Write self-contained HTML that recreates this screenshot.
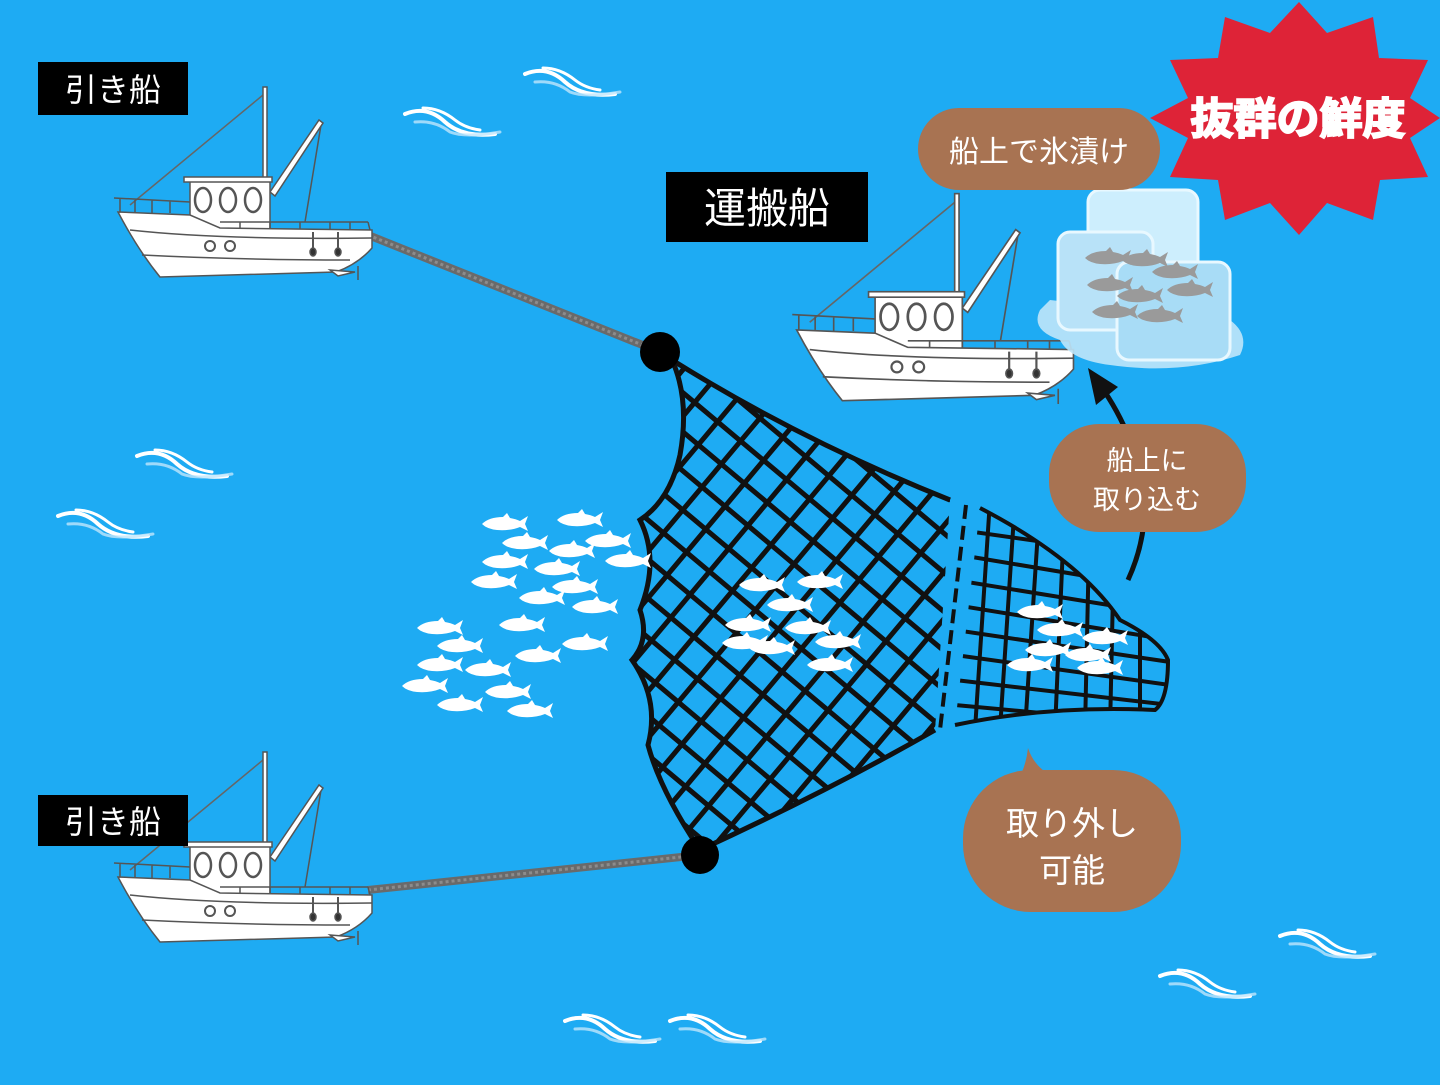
<!DOCTYPE html>
<html><head><meta charset="utf-8"><style>
html,body{margin:0;padding:0;}
body{width:1440px;height:1080px;overflow:hidden;background:#1eabf3;}
svg text{font-family:"Liberation Sans","Noto Sans CJK JP",sans-serif;}
</style></head><body>
<svg width="1440" height="1080" viewBox="0 0 1440 1080" xmlns="http://www.w3.org/2000/svg">
<defs>
 <g id="wave" fill="none" stroke-linecap="round">
  <path d="M0,6 Q22,-3 40,14 Q58,30 90,26" stroke="#fff" stroke-width="4"/>
  <path d="M18,0 Q35,0 50,12 Q60,20 75,22" stroke="#fff" stroke-width="3"/>
  <path d="M10,14 Q30,12 45,24 Q60,30 95,24" stroke="#bfe6fb" stroke-width="3" opacity="0.8"/>
 </g>
 <g id="fish">
  <path d="M-23,0 Q-16,-7 -2,-7 L2,-11 L5,-6 Q11,-5 15,-3 L23,-8 L20,0 L23,7 L15,3 Q5,7 -8,6 Q-18,5 -23,0Z" fill="#fff"/>
 </g>
 <g id="gfish">
  <path d="M-23,0 Q-16,-7 -2,-7 L2,-11 L5,-6 Q11,-5 15,-3 L23,-8 L20,0 L23,7 L15,3 Q5,7 -8,6 Q-18,5 -23,0Z" fill="#9a9a9a"/>
 </g>
 <g id="boat" stroke="#555" stroke-width="1.5">
  <line x1="30" y1="125" x2="163" y2="15" stroke="#666" stroke-width="1.5"/>
  <line x1="205" y1="142" x2="221" y2="45" stroke="#555" stroke-width="1.5"/>
  <rect x="163" y="7" width="4" height="95" fill="#fff"/>
  <path d="M170,112 L219,40 L223,43 L175,116Z" fill="#fff"/>
  <rect x="90" y="100" width="80" height="50" fill="#fff"/>
  <rect x="84" y="97" width="88" height="5" fill="#fff"/>
  <ellipse cx="103" cy="120" rx="8" ry="12" fill="none" stroke-width="2.5"/>
  <ellipse cx="128" cy="120" rx="8" ry="12" fill="none" stroke-width="2.5"/>
  <ellipse cx="153" cy="120" rx="8" ry="12" fill="none" stroke-width="2.5"/>
  <path d="M14,118 L90,122 M20,118 L20,132 M35,120 L35,132 M52,120 L52,133 M70,121 L70,133 M120,142 L268,142 M140,142 L140,150 M170,142 L170,150 M200,142 L200,150 M230,142 L230,150 M250,142 L250,150 M268,142 L270,150" fill="none"/>
  <path d="M18,132 L90,135 L120,148 L272,150 L272,168 Q258,184 236,192 L60,197 Q38,170 18,132 Z" fill="#fff"/>
  <path d="M30,150 Q120,160 272,158" fill="none"/>
  <path d="M42,175 Q140,180 250,180" fill="none"/>
  <circle cx="110" cy="166" r="5" fill="none" stroke-width="2"/>
  <circle cx="130" cy="166" r="5" fill="none" stroke-width="2"/>
  <path d="M213,152 L213,170 M238,152 L238,170" fill="none" stroke-width="2"/>
  <ellipse cx="213" cy="172" rx="3" ry="4" fill="#333"/>
  <ellipse cx="238" cy="172" rx="3" ry="4" fill="#333"/>
  <path d="M230,190 L255,192 L238,196Z" fill="#fff"/>
  <line x1="258" y1="186" x2="258" y2="200"/>
 </g>
 <clipPath id="netclip">
  <path d="M672,360 Q690,400 680,455 Q670,500 640,520 Q660,560 640,610 Q650,640 632,660 Q660,700 648,745 Q660,790 700,850 Q830,790 935,730 L950,500 Q800,440 672,360Z"/>
 </clipPath>
 <clipPath id="codclip">
  <path d="M980,508 Q1080,560 1120,620 Q1160,640 1168,660 Q1168,700 1155,710 Q1050,705 955,725 Z"/>
 </clipPath>
</defs>

<use href="#wave" x="137" y="450"/>
<use href="#wave" x="58" y="510"/>
<use href="#wave" x="405" y="108"/>
<use href="#wave" x="525" y="68"/>
<use href="#wave" x="1160" y="970"/>
<use href="#wave" x="1280" y="930"/>
<use href="#wave" x="565" y="1015"/>
<use href="#wave" x="670" y="1015"/>

<path d="M368,235 L660,352" stroke="#6a6a6a" stroke-width="8"/>
<path d="M368,235 L660,352" stroke="#8c8c8c" stroke-width="3" stroke-dasharray="3 3"/>
<path d="M368,890 L700,855" stroke="#6a6a6a" stroke-width="8"/>
<path d="M368,890 L700,855" stroke="#8c8c8c" stroke-width="3" stroke-dasharray="3 3"/>

<use href="#boat" x="100" y="80"/>
<use href="#boat" x="100" y="745"/>
<g transform="translate(777,186) scale(1.09)"><use href="#boat"/></g>

<g clip-path="url(#netclip)" stroke="#111" stroke-width="5" fill="none">
 <g transform="rotate(40 790 600)">
  <path d="M500,300 L500,900 M530,300 L530,900 M560,300 L560,900 M590,300 L590,900 M620,300 L620,900 M650,300 L650,900 M680,300 L680,900 M710,300 L710,900 M740,300 L740,900 M770,300 L770,900 M800,300 L800,900 M830,300 L830,900 M860,300 L860,900 M890,300 L890,900 M920,300 L920,900 M950,300 L950,900 M980,300 L980,900 M1010,300 L1010,900 M1040,300 L1040,900 M1070,300 L1070,900"/>
  <path d="M500,330 L1100,330 M500,360 L1100,360 M500,390 L1100,390 M500,420 L1100,420 M500,450 L1100,450 M500,480 L1100,480 M500,510 L1100,510 M500,540 L1100,540 M500,570 L1100,570 M500,600 L1100,600 M500,630 L1100,630 M500,660 L1100,660 M500,690 L1100,690 M500,720 L1100,720 M500,750 L1100,750 M500,780 L1100,780 M500,810 L1100,810 M500,840 L1100,840 M500,870 L1100,870"/>
 </g>
</g>
<path d="M672,360 Q690,400 680,455 Q670,500 640,520 Q660,560 640,610 Q650,640 632,660 Q660,700 648,745 Q660,790 700,850 Q830,790 935,730 M672,360 Q800,440 950,500" stroke="#111" stroke-width="5" fill="none"/>
<path d="M966,505 L940,730" stroke="#111" stroke-width="4" stroke-dasharray="14 7"/>
<g clip-path="url(#codclip)" stroke="#111" stroke-width="4" fill="none">
 <path d="M960,530 L1170,560 M960,555 L1170,590 M955,580 L1170,615 M955,605 L1170,640 M955,630 L1170,662 M955,655 L1170,685 M955,680 L1170,705 M955,705 L1170,725"/>
 <path d="M990,500 L975,730 M1015,500 L1000,730 M1040,500 L1025,730 M1065,500 L1055,730 M1090,500 L1085,730 M1115,500 L1110,730 M1140,500 L1140,730"/>
</g>
<path d="M980,508 Q1080,560 1120,620 Q1160,640 1168,660 Q1168,700 1155,710 Q1050,705 955,725" stroke="#111" stroke-width="4" fill="none"/>
<circle cx="660" cy="352" r="20" fill="#000"/>
<circle cx="700" cy="855" r="19" fill="#000"/>

<g>
<use href="#fish" x="505" y="524"/><use href="#fish" x="580" y="520"/><use href="#fish" x="525" y="543"/>
<use href="#fish" x="608" y="541"/><use href="#fish" x="572" y="551"/><use href="#fish" x="628" y="561"/>
<use href="#fish" x="505" y="562"/><use href="#fish" x="557" y="569"/><use href="#fish" x="494" y="582"/>
<use href="#fish" x="575" y="587"/><use href="#fish" x="542" y="598"/><use href="#fish" x="595" y="607"/>
<use href="#fish" x="522" y="625"/><use href="#fish" x="440" y="628"/><use href="#fish" x="585" y="644"/>
<use href="#fish" x="460" y="646"/><use href="#fish" x="538" y="656"/><use href="#fish" x="440" y="665"/>
<use href="#fish" x="488" y="670"/><use href="#fish" x="425" y="686"/><use href="#fish" x="508" y="692"/>
<use href="#fish" x="460" y="705"/><use href="#fish" x="530" y="711"/>
<use href="#fish" x="762" y="585"/><use href="#fish" x="820" y="582"/><use href="#fish" x="790" y="605"/>
<use href="#fish" x="748" y="625"/><use href="#fish" x="808" y="628"/><use href="#fish" x="772" y="648"/>
<use href="#fish" x="838" y="642"/><use href="#fish" x="830" y="665"/><use href="#fish" x="745" y="643"/>
<use href="#fish" x="1040" y="612"/><use href="#fish" x="1060" y="630"/><use href="#fish" x="1105" y="638"/>
<use href="#fish" x="1048" y="650"/><use href="#fish" x="1088" y="655"/><use href="#fish" x="1030" y="665"/>
<use href="#fish" x="1100" y="668"/>
</g>

<g>
 <path d="M1040,310 Q1030,330 1060,340 Q1070,360 1110,365 Q1180,375 1240,355 Q1250,335 1230,320 L1050,300Z" fill="#bfe6fa" opacity="0.9"/>
 <rect x="1088" y="190" width="110" height="90" rx="12" fill="#cdeefd" stroke="#e8f8ff" stroke-width="3"/>
 <rect x="1058" y="232" width="95" height="98" rx="12" fill="#b8e2f8" stroke="#e8f8ff" stroke-width="3"/>
 <rect x="1117" y="262" width="113" height="98" rx="12" fill="#a8dcf6" stroke="#e8f8ff" stroke-width="3"/>
 <use href="#gfish" x="1108" y="258"/>
 <use href="#gfish" x="1145" y="260"/><use href="#gfish" x="1175" y="272"/>
 <use href="#gfish" x="1110" y="285"/><use href="#gfish" x="1140" y="296"/><use href="#gfish" x="1190" y="290"/>
 <use href="#gfish" x="1115" y="312"/><use href="#gfish" x="1160" y="316"/>
</g>

<polygon fill="#de2337" points="1299,2 1327,33 1373,17 1379,58 1428,60 1410,98 1440,118 1410,138 1428,177 1380,180 1373,220 1327,203 1299,235 1270,203 1225,220 1218,180 1170,177 1188,138 1150,118 1188,98 1170,60 1218,58 1225,17 1270,33"/>
<text x="1298" y="134" text-anchor="middle" font-size="43" font-weight="bold" fill="#fff" stroke="#fff" stroke-width="2">抜群の鮮度</text>

<path d="M1128,580 Q1160,510 1130,440 Q1118,410 1100,385" stroke="#111" stroke-width="5" fill="none"/>
<path d="M1088,368 L1096,405 L1118,387Z" fill="#111"/>

<rect x="918" y="108" width="242" height="82" rx="41" fill="#a87352"/>
<text x="1039" y="162" text-anchor="middle" font-size="30" fill="#fff">船上で氷漬け</text>
<rect x="1049" y="424" width="197" height="108" rx="50" fill="#a87352"/>
<text x="1147" y="470" text-anchor="middle" font-size="27" fill="#fff">船上に</text>
<text x="1147" y="509" text-anchor="middle" font-size="27" fill="#fff">取り込む</text>
<path d="M1010,790 Q1025,775 1028,748 Q1035,770 1060,780 Z" fill="#a87352"/>
<rect x="963" y="770" width="218" height="142" rx="68" fill="#a87352"/>
<text x="1072" y="835" text-anchor="middle" font-size="33" fill="#fff">取り外し</text>
<text x="1072" y="882" text-anchor="middle" font-size="33" fill="#fff">可能</text>

<rect x="38" y="62" width="150" height="53" fill="#000"/>
<text x="113" y="101" text-anchor="middle" font-size="32" fill="#fff">引き船</text>
<rect x="38" y="795" width="150" height="51" fill="#000"/>
<text x="113" y="833" text-anchor="middle" font-size="32" fill="#fff">引き船</text>
<rect x="666" y="172" width="202" height="70" fill="#000"/>
<text x="767" y="223" text-anchor="middle" font-size="42" fill="#fff">運搬船</text>
</svg>
</body></html>
